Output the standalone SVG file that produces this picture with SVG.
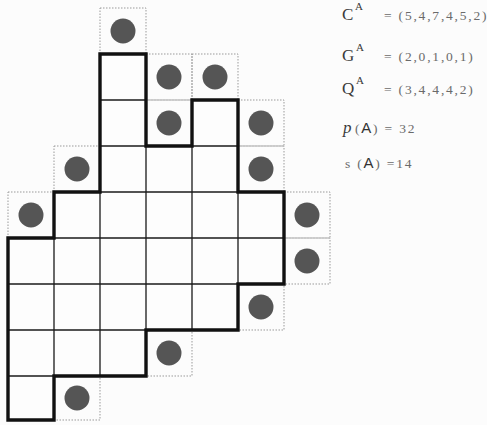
<svg xmlns="http://www.w3.org/2000/svg" width="487" height="425" viewBox="0 0 487 425">
  <style>
    .cell { fill: none; stroke: #9a9a9a; stroke-width: 1; stroke-dasharray: 1.5 1.5; }
    .dot { fill: #555555; }
    .grid { stroke: #1a1a1a; stroke-width: 1.3; fill: none; }
    .outline { fill: none; stroke: #111; stroke-width: 3.4; stroke-linejoin: miter; }
    .lbl { font-family: "Liberation Serif", "Times New Roman", serif; fill: #3a3a3a; }
    .sup { font-family: "Liberation Serif", "Times New Roman", serif; fill: #3a3a3a; font-size: 11px; }
    .val { font-family: "Liberation Serif", "Times New Roman", serif; fill: #6a6a6a; font-size: 13.5px; letter-spacing: 1.8px; }
    .sans { font-family: "Liberation Sans", Arial, sans-serif; }
  </style>
  <defs>
    <clipPath id="polyClip">
      <polygon points="100,54 146,54 146,146 192,146 192,100 238,100 238,192 284,192 284,284 238,284 238,330 146,330 146,376 54,376 54,420 8,420 8,238 54,238 54,192 100,192"/>
    </clipPath>
  </defs>
  <rect x="0" y="0" width="487" height="425" fill="#fcfcfc"/>

  <g id="dot-cells">
    <g id="cell-2-0"><rect class="cell" x="100" y="8" width="46" height="46"/><circle class="dot" cx="123" cy="31" r="12.5"/></g>
    <g id="cell-3-1"><rect class="cell" x="146" y="54" width="46" height="46"/><circle class="dot" cx="169" cy="77" r="12.5"/></g>
    <g id="cell-4-1"><rect class="cell" x="192" y="54" width="46" height="46"/><circle class="dot" cx="215" cy="77" r="12.5"/></g>
    <g id="cell-3-2"><rect class="cell" x="146" y="100" width="46" height="46"/><circle class="dot" cx="169" cy="123" r="12.5"/></g>
    <g id="cell-5-2"><rect class="cell" x="238" y="100" width="46" height="46"/><circle class="dot" cx="261" cy="123" r="12.5"/></g>
    <g id="cell-1-3"><rect class="cell" x="54" y="146" width="46" height="46"/><circle class="dot" cx="77" cy="169" r="12.5"/></g>
    <g id="cell-5-3"><rect class="cell" x="238" y="146" width="46" height="46"/><circle class="dot" cx="261" cy="169" r="12.5"/></g>
    <g id="cell-0-4"><rect class="cell" x="8" y="192" width="46" height="46"/><circle class="dot" cx="31" cy="215" r="12.5"/></g>
    <g id="cell-6-4"><rect class="cell" x="284" y="192" width="46" height="46"/><circle class="dot" cx="307" cy="215" r="12.5"/></g>
    <g id="cell-6-5"><rect class="cell" x="284" y="238" width="46" height="46"/><circle class="dot" cx="307" cy="261" r="12.5"/></g>
    <g id="cell-5-6"><rect class="cell" x="238" y="284" width="46" height="46"/><circle class="dot" cx="261" cy="307" r="12.5"/></g>
    <g id="cell-3-7"><rect class="cell" x="146" y="330" width="46" height="46"/><circle class="dot" cx="169" cy="353" r="12.5"/></g>
    <g id="cell-1-8"><rect class="cell" x="54" y="376" width="46" height="44"/><circle class="dot" cx="77" cy="398" r="12.5"/></g>
  </g>

  <g id="polyomino">
    <rect x="0" y="0" width="487" height="425" fill="#fdfdfd" clip-path="url(#polyClip)"/>
    <g class="grid" clip-path="url(#polyClip)">
      <line x1="54" y1="0" x2="54" y2="425"/>
      <line x1="100" y1="0" x2="100" y2="425"/>
      <line x1="146" y1="0" x2="146" y2="425"/>
      <line x1="192" y1="0" x2="192" y2="425"/>
      <line x1="238" y1="0" x2="238" y2="425"/>
      <line x1="0" y1="100" x2="487" y2="100"/>
      <line x1="0" y1="146" x2="487" y2="146"/>
      <line x1="0" y1="192" x2="487" y2="192"/>
      <line x1="0" y1="238" x2="487" y2="238"/>
      <line x1="0" y1="284" x2="487" y2="284"/>
      <line x1="0" y1="330" x2="487" y2="330"/>
      <line x1="0" y1="376" x2="487" y2="376"/>
    </g>
    <polygon class="outline" points="100,54 146,54 146,146 192,146 192,100 238,100 238,192 284,192 284,284 238,284 238,330 146,330 146,376 54,376 54,420 8,420 8,238 54,238 54,192 100,192"/>
  </g>

  <g id="labels">
    <g id="label-C">
      <text class="lbl" x="342" y="20" font-size="17">C</text>
      <text class="sup" x="355" y="10">A</text>
      <text class="val" x="384" y="20">= (5,4,7,4,5,2)</text>
    </g>
    <g id="label-G">
      <text class="lbl" x="342" y="61" font-size="17">G</text>
      <text class="sup" x="356" y="51">A</text>
      <text class="val" x="384" y="61">= (2,0,1,0,1)</text>
    </g>
    <g id="label-Q">
      <text class="lbl" x="342" y="94" font-size="17">Q</text>
      <text class="sup" x="356" y="84">A</text>
      <text class="val" x="384" y="94">= (3,4,4,4,2)</text>
    </g>
    <g id="label-p">
      <text class="lbl" x="343" y="133" font-size="17" font-style="italic">p</text>
      <text class="val" x="355" y="133" font-size="14">(<tspan class="sans" fill="#333" font-size="15">A</tspan>) = 32</text>
    </g>
    <g id="label-s">
      <text class="val" x="345" y="168" font-size="14">s (<tspan class="sans" fill="#333" font-size="15">A</tspan>)  =14</text>
    </g>
  </g>
</svg>
